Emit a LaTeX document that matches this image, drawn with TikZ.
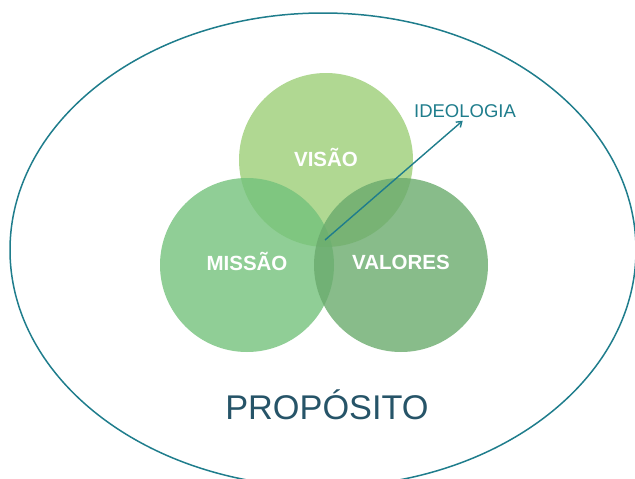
\documentclass[tikz,border=0pt]{standalone}
\usepackage{fontspec}
\setmainfont{Liberation Sans}
\definecolor{propTeal}{HTML}{1F7D8C}
\definecolor{propDark}{HTML}{265468}
\definecolor{visaoGreen}{HTML}{9CCE77}
\definecolor{missaoGreen}{HTML}{74C27C}
\definecolor{valoresGreen}{HTML}{6AAB6D}
\usepackage{tikz}
\usetikzlibrary{arrows.meta, positioning, shapes.geometric}
\tikzset{
    circulo node/.style={circle, minimum size=174pt, inner sep=0pt, fill opacity=0.8, text opacity=1, text=white, font=\fontsize{20.5}{24}\selectfont\bfseries},
    arrow style/.style={-{Straight Barb[length=5pt, width=7pt]}, line width=1.4pt, propTeal},
    label text/.style={font=\fontsize{18.5}{22}\selectfont, text=propTeal, inner sep=1pt},
}

\begin{document}
\begin{tikzpicture}[x=1pt, y=-1pt]
    \useasboundingbox (0,0) rectangle (635,479);
    \clip (0,0) rectangle (635,479);
    % contorno do proposito
    \node[ellipse, draw=propTeal, line width=1.5pt, minimum width=626pt, minimum height=474pt] (proposito) at (323,250) {};
    \node[font=\fontsize{34.3}{40}\selectfont, text=propDark] (propositoText) at (327,405) {PROPÓSITO};
    % os tres circulos
    \node[circulo node, fill=visaoGreen] (visao) at (326,160) {};
    \node[circulo node, fill=missaoGreen] (missao) at (247,265) {};
    \node[circulo node, fill=valoresGreen] (valores) at (401,265) {};
    \node[circulo node, fill=none, yshift=3pt] at (visao) {VISÃO};
    \node[circulo node, fill=none, yshift=3.5pt] at (missao) {MISSÃO};
    \node[circulo node, fill=none, yshift=3pt] at (valores) {VALORES};
    % ideologia
    \node[label text] (ideologia) at (465,111) {IDEOLOGIA};
    \coordinate (centro) at (325,240);
    \draw[arrow style, shorten >=3pt] (centro) -- (ideologia.south);
\end{tikzpicture}
\end{document}
